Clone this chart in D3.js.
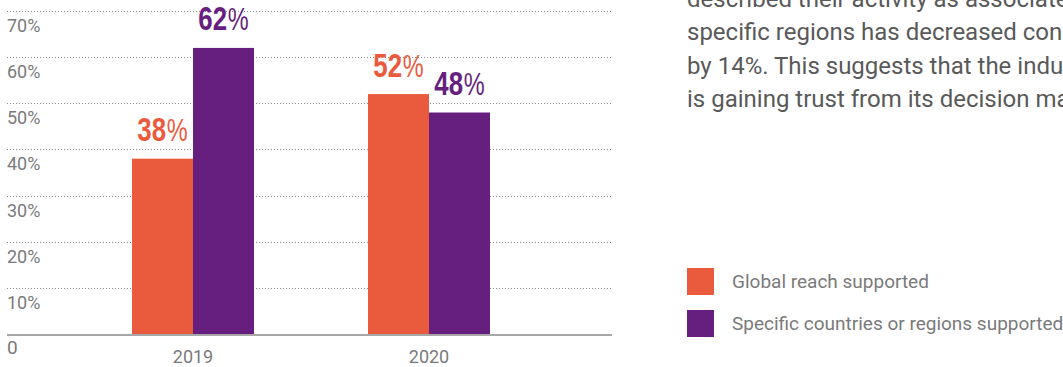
<!DOCTYPE html>
<html>
<head>
<meta charset="utf-8">
<script src="https://cdn.jsdelivr.net/npm/d3@7/dist/d3.min.js"></script>
<style>
  html, body { margin: 0; padding: 0; background: #fff; }
  svg { display: block; }
</style>
</head>
<body>
<svg id="chart" width="1063" height="367"></svg>
<script>
// Share of respondents by reach of support, per survey year
const years = ["2019", "2020"];
const seriesNames = ["Global reach supported", "Specific countries or regions supported"];
const globalReach = [38, 52];
const specificRegions = [62, 48];
const yTicks = [10, 20, 30, 40, 50, 60, 70];
const seriesColors = ["#EA5B3E", "#661F7E"];
const noteLines = [
  "described their activity as associated with",
  "specific regions has decreased considerably",
  "by 14%. This suggests that the industry",
  "is gaining trust from its decision makers."
];

const svg = d3.select("#chart");
const plotLeft = 7, plotRight = 613;

const y = d3.scaleLinear().domain([0, 70]).range([334, 11]);

const x = d3.scaleBand()
  .domain(years)
  .range([75, 547])
  .paddingInner(0.483)
  .paddingOuter(0.2415);

const xs = d3.scaleBand()
  .domain(d3.range(seriesNames.length))
  .range([0, x.bandwidth()]);

// dotted grid lines with labels beneath each
const grid = svg.append("g");
grid.selectAll("line")
  .data(yTicks)
  .join("line")
  .attr("x1", plotLeft).attr("x2", plotRight)
  .attr("y1", d => Math.round(y(d)) + 0.5)
  .attr("y2", d => Math.round(y(d)) + 0.5)
  .attr("stroke", "#8a8a8a")
  .attr("stroke-width", 1)
  .attr("stroke-dasharray", "1,2");

grid.selectAll("text")
  .data(yTicks)
  .join("text")
  .attr("x", plotLeft)
  .attr("y", d => y(d) + 21)
  .attr("font-family", "Roboto, sans-serif")
  .attr("font-size", 18)
  .attr("fill", "#7a7a7a")
  .text(d => d + "%");

svg.append("text")
  .attr("x", plotLeft)
  .attr("y", 354)
  .attr("font-family", "Roboto, sans-serif")
  .attr("font-size", 19)
  .attr("fill", "#7a7a7a")
  .text("0");

// bars
const rows = years.map((yr, i) => ({ year: yr, values: [globalReach[i], specificRegions[i]] }));

const groups = svg.append("g").selectAll("g")
  .data(rows)
  .join("g")
  .attr("transform", d => `translate(${x(d.year)},0)`);

groups.selectAll("rect")
  .data(d => d.values.map((v, k) => ({ v, k })))
  .join("rect")
  .attr("x", d => xs(d.k))
  .attr("width", xs.bandwidth())
  .attr("y", d => y(d.v))
  .attr("height", d => y(0) - y(d.v))
  .attr("fill", d => seriesColors[d.k]);

// value labels above bars, in a horizontally condensed face
const labels = groups.selectAll("text.val")
  .data(d => d.values.map((v, k) => ({ v, k })))
  .join("text")
  .attr("class", "val")
  .attr("transform", d => `translate(${xs(d.k) + xs.bandwidth() / 2},${y(d.v) - 17.5}) scale(0.76,1)`)
  .attr("text-anchor", "middle")
  .attr("font-family", "'Liberation Sans', Arial, sans-serif")
  .attr("fill", d => seriesColors[d.k]);
labels.append("tspan")
  .attr("font-size", 34)
  .attr("font-weight", "bold")
  .text(d => d.v);
labels.append("tspan")
  .attr("font-size", 31)
  .attr("font-weight", "normal")
  .attr("dx", 1)
  .text("%");

// baseline
svg.append("line")
  .attr("x1", plotLeft).attr("x2", plotRight - 1)
  .attr("y1", 335).attr("y2", 335)
  .attr("stroke", "#a8a8a8")
  .attr("stroke-width", 2);

// category labels
svg.append("g").selectAll("text")
  .data(years)
  .join("text")
  .attr("x", d => x(d) + x.bandwidth() / 2)
  .attr("y", 363)
  .attr("text-anchor", "middle")
  .attr("font-family", "Roboto, sans-serif")
  .attr("font-size", 18)
  .attr("fill", "#7a7a7a")
  .text(d => d);

// note text on the right
svg.append("g").selectAll("text")
  .data(noteLines)
  .join("text")
  .attr("x", 687)
  .attr("y", (d, i) => 7 + i * 33.4)
  .attr("font-family", "Roboto, sans-serif")
  .attr("font-size", 24)
  .attr("fill", "#595959")
  .text(d => d);

// legend
const legend = svg.append("g").selectAll("g")
  .data(seriesNames)
  .join("g")
  .attr("transform", (d, i) => `translate(687,${268 + i * 42})`);
legend.append("rect")
  .attr("width", 27).attr("height", 27)
  .attr("fill", (d, i) => seriesColors[i]);
legend.append("text")
  .attr("x", 45)
  .attr("y", 13.5)
  .attr("dy", "0.35em")
  .attr("font-family", "Roboto, sans-serif")
  .attr("font-size", 19)
  .attr("fill", "#7a7a7a")
  .text(d => d);
</script>
</body>
</html>
